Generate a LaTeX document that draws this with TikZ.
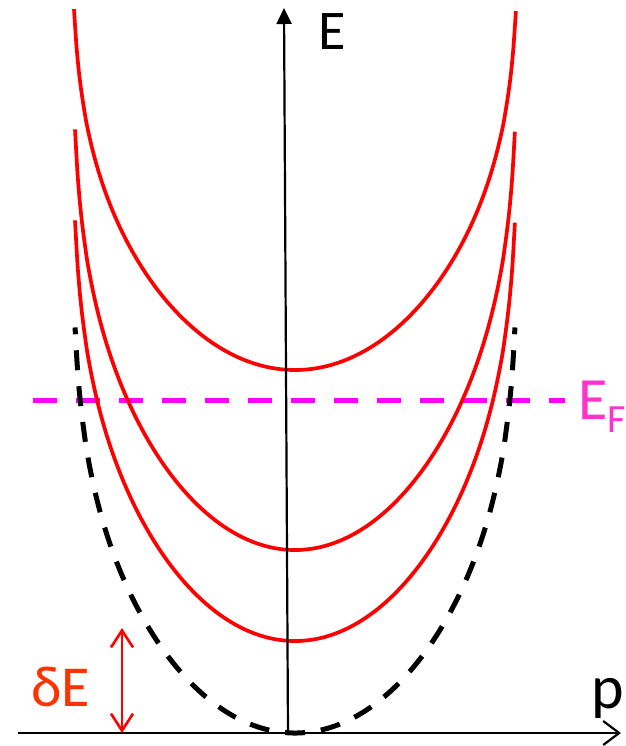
\documentclass[tikz,border=0pt]{standalone}
\usepackage{fontspec}
\setmainfont{Carlito}
\usetikzlibrary{arrows.meta}
\definecolor{cred}{RGB}{255,0,0}
\definecolor{cmag}{RGB}{255,0,255}
\definecolor{cmagtext}{RGB}{255,51,204}
\definecolor{corange}{RGB}{255,51,0}
\begin{document}
\begin{tikzpicture}[x=1pt,y=-1pt,
  declare function={g(\u)=0.522*\u*\u/((1-0.961*\u*\u)^0.2);},
  band/.style={draw=cred, line width=3.7pt},
  fermi/.style={draw=cmag, line width=5pt, dash pattern=on 24pt off 19pt},
  free/.style={draw=black, line width=5pt, dash pattern=on 20pt off 16pt, dash phase=10pt},
  axis/.style={draw=black, line width=2.2pt},
  lbl/.style={inner sep=0pt, anchor=base west, font=\fontsize{56}{60}\selectfont}]
\useasboundingbox (0,0) rectangle (625,746);

% Fermi level
\coordinate (fl) at (33,400);
\coordinate (fr) at (565,400);
\draw[fermi] (fl) -- (fr);

% bands
\draw[band] plot[domain=-1:1, samples=181, smooth] ({295+221*\x}, {370-362*g(\x)});
\draw[band] plot[domain=-1:1, samples=181, smooth] ({295+220*\x}, {550-422*g(\x)});
\draw[band] plot[domain=-1:1, samples=181, smooth] ({295+220*\x}, {641-422*g(\x)});

% free-electron parabola (dashed)
\draw[free] plot[domain=0:1, samples=121, smooth] ({295+220*\x}, {733-408*g(\x)});
\draw[free] plot[domain=0:1, samples=121, smooth] ({295-220*\x}, {733-408*g(\x)});

% axes
\coordinate (vb) at (288,733);
\coordinate (vt) at (284,8);
\draw[axis, -{Triangle[length=16pt,width=15pt]}] (vb) -- (vt);
\coordinate (hl) at (18,733);
\coordinate (hr) at (621,733);
\draw[axis, -{Straight Barb[length=16pt,width=24pt]}] (hl) -- (hr);

% delta E arrow
\coordinate (dt) at (122,628);
\coordinate (db) at (122,733);
\draw[draw=cred, line width=2.6pt, {Straight Barb[length=17pt,width=22pt]}-{Straight Barb[length=17pt,width=22pt]}] (dt) -- (db);

% labels
\node[lbl] (elabel) at (318,50) {E};
\node[lbl, font=\fontsize{62}{62}\selectfont] (plabel) at (591,708) {p};
\node[lbl, text=cmagtext, font=\fontsize{60}{60}\selectfont] (eflabel) at (578,419) {E\raisebox{-13pt}{\fontsize{40}{40}\selectfont F}};
\node[lbl, anchor=base east, text=corange, font=\fontsize{58}{60}\selectfont] (delabel) at (90,706) {δE};
\end{tikzpicture}
\end{document}
